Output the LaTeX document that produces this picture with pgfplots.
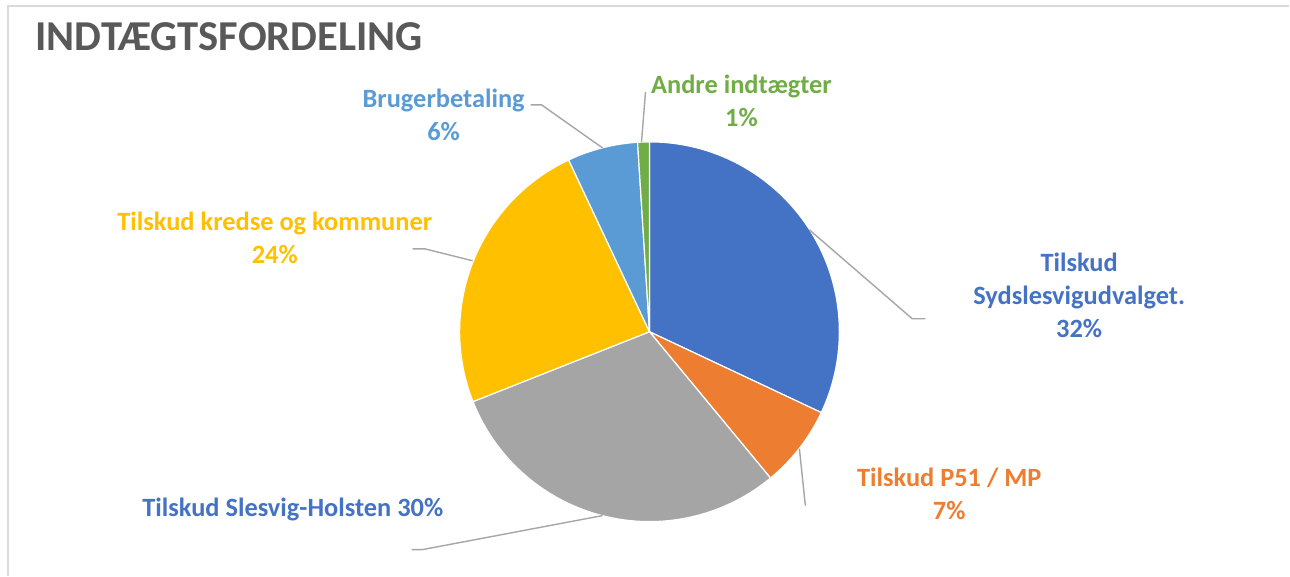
\documentclass[border=0pt]{standalone}
\usepackage{fontspec}
\setmainfont{Carlito}
\usepackage{pgfplots}
\pgfplotsset{compat=1.18}
\definecolor{cBlue}{HTML}{4472C4}
\definecolor{cOrange}{HTML}{ED7D31}
\definecolor{cGray}{HTML}{A5A5A5}
\definecolor{cYellow}{HTML}{FFC000}
\definecolor{cLBlue}{HTML}{5B9BD5}
\definecolor{cGreen}{HTML}{70AD47}
\definecolor{cTitle}{HTML}{595959}
\definecolor{cFrame}{HTML}{D9D9D9}
\definecolor{cLeader}{HTML}{A6A6A6}
\begin{document}
\begin{tikzpicture}
\begin{axis}[
  x=0.5pt, y=0.5pt, y dir=reverse,
  xmin=0, xmax=1290, ymin=0, ymax=576,
  hide axis, clip=false,
]
% canvas bounds and background
\fill[white] (axis cs:0,0) rectangle (axis cs:1290,576);
\draw[cFrame, line width=1pt] (axis cs:8,576) -- (axis cs:8,6) -- (axis cs:1290,6);
% pie slices (values in percent)
\tikzset{slice/.style={draw=white, line width=0.6pt, line join=round}}
\fill[cBlue,slice]   (axis cs:650,332) -- ++({90}:95pt) arc[start angle={90}, delta angle={-3.6*32}, radius=95pt] -- cycle;
\fill[cOrange,slice] (axis cs:650,332) -- ++({90-3.6*32}:95pt) arc[start angle={90-3.6*32}, delta angle={-3.6*7}, radius=95pt] -- cycle;
\fill[cGray,slice]   (axis cs:650,332) -- ++({90-3.6*39}:95pt) arc[start angle={90-3.6*39}, delta angle={-3.6*30}, radius=95pt] -- cycle;
\fill[cYellow,slice] (axis cs:650,332) -- ++({90-3.6*69}:95pt) arc[start angle={90-3.6*69}, delta angle={-3.6*24}, radius=95pt] -- cycle;
\fill[cLBlue,slice]  (axis cs:650,332) -- ++({90-3.6*93}:95pt) arc[start angle={90-3.6*93}, delta angle={-3.6*6}, radius=95pt] -- cycle;
\fill[cGreen,slice]  (axis cs:650,332) -- ++({90-3.6*99}:95pt) arc[start angle={90-3.6*99}, delta angle={-3.6*1}, radius=95pt] -- cycle;
% leader lines
\tikzset{leader/.style={draw=cLeader, line width=0.7pt}}
\draw[leader] (axis cs:810,230) -- (axis cs:913,319) -- (axis cs:926,319);
\draw[leader] (axis cs:800,449) -- (axis cs:806,506);
\draw[leader] (axis cs:603,516) -- (axis cs:423,550) -- (axis cs:412,550);
\draw[leader] (axis cs:473,261) -- (axis cs:425,249) -- (axis cs:413,249);
\draw[leader] (axis cs:603,148) -- (axis cs:542,105) -- (axis cs:531,105);
\draw[leader] (axis cs:642,142) -- (axis cs:646,92);
% labels
\tikzset{lab/.style={align=center, inner sep=0pt, font=\bfseries\fontsize{13.2}{16.5}\selectfont}}
\node[lab, text=cBlue]   at (axis cs:1080,296) {Tilskud\\Sydslesvigudvalget.\\32\%};
\node[lab, text=cOrange] at (axis cs:950,494) {Tilskud P51 / MP\\7\%};
\node[lab, text=cBlue]   at (axis cs:293,510) {Tilskud Slesvig-Holsten 30\%};
\node[lab, text=cYellow] at (axis cs:275,238) {Tilskud kredse og kommuner\\24\%};
\node[lab, text=cLBlue]  at (axis cs:444,115) {Brugerbetaling\\6\%};
\node[lab, text=cGreen]  at (axis cs:742,101) {Andre indtægter\\1\%};
% title
\node[anchor=west, inner sep=0pt, font=\bfseries\fontsize{21.3}{26}\selectfont, text=cTitle] at (axis cs:35,37) {INDTÆGTSFORDELING};
\end{axis}
\end{tikzpicture}
\end{document}
